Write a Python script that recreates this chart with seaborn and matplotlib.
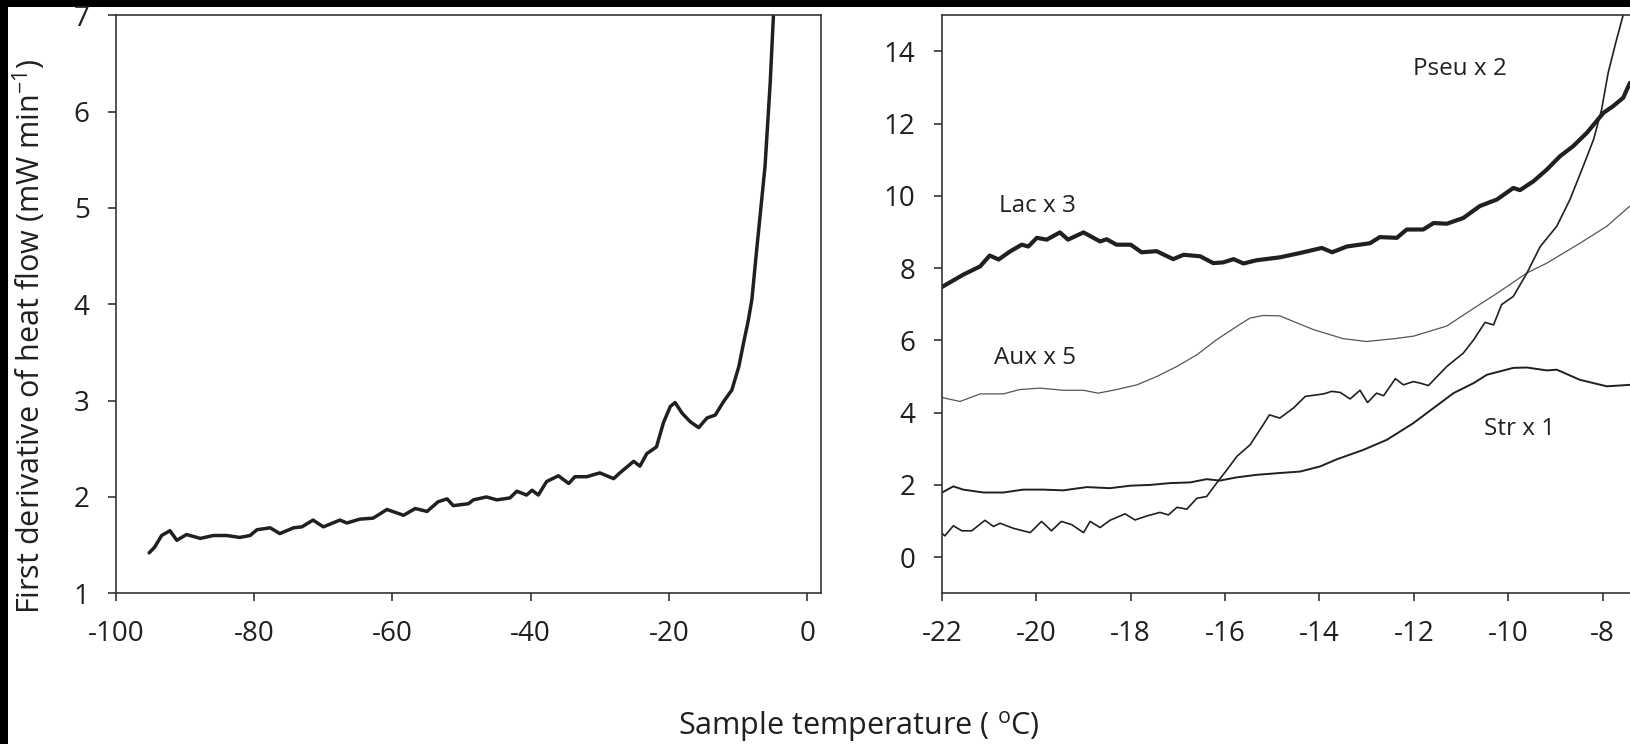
import matplotlib
matplotlib.use("Agg")
import matplotlib.pyplot as plt
import seaborn as sns
import pandas as pd
from matplotlib.patches import Rectangle

# ---------------- data ----------------
left_T = [-95.2, -94.4, -93.4, -92.2, -91.2, -89.8, -87.8, -85.9, -84.0, -82.1, -80.6, -79.6,
          -77.7, -76.3, -74.3, -73.1, -71.5, -70.0, -67.6, -66.6, -64.7, -62.8, -60.8, -58.4,
          -56.7, -55.0, -53.4, -52.1, -51.2, -49.0, -48.3, -46.4, -44.9, -43.0, -42.0, -40.6,
          -39.8, -38.9, -37.7, -36.0, -34.5, -33.6, -31.9, -30.0, -28.0, -27.1, -25.1, -24.2,
          -23.2, -21.8, -20.8, -19.8, -19.1, -18.1, -16.9, -15.7, -14.5, -13.3, -12.1, -10.9,
          -9.9, -9.2, -8.5, -8.0, -7.3, -6.1, -5.35, -4.88]
left_v = [1.42, 1.48, 1.60, 1.65, 1.55, 1.61, 1.57, 1.60, 1.60, 1.58, 1.60, 1.66,
          1.68, 1.62, 1.68, 1.69, 1.76, 1.69, 1.76, 1.73, 1.77, 1.78, 1.87, 1.81,
          1.88, 1.85, 1.95, 1.98, 1.91, 1.93, 1.97, 2.00, 1.97, 1.99, 2.06, 2.02,
          2.07, 2.02, 2.16, 2.22, 2.14, 2.21, 2.21, 2.25, 2.19, 2.25, 2.37, 2.32,
          2.45, 2.52, 2.77, 2.94, 2.98, 2.87, 2.78, 2.72, 2.82, 2.85, 2.99, 3.11,
          3.35, 3.60, 3.84, 4.05, 4.57, 5.43, 6.30, 7.00]

lac_T = [-22.0, -21.55, -21.19, -20.99, -20.8, -20.55, -20.31, -20.17, -19.99, -19.78, -19.5,
         -19.33, -19.0, -18.65, -18.51, -18.3, -18.0, -17.77, -17.45, -17.1, -16.88, -16.53,
         -16.25, -16.04, -15.82, -15.61, -15.33, -14.84, -14.41, -13.95, -13.73, -13.42,
         -12.93, -12.72, -12.36, -12.15, -11.8, -11.58, -11.3, -10.95, -10.6, -10.24, -9.89,
         -9.75, -9.46, -9.18, -8.9, -8.62, -8.33, -7.98, -7.77, -7.56, -7.42]
lac_v = [7.48, 7.82, 8.05, 8.35, 8.24, 8.47, 8.65, 8.6, 8.84, 8.79, 8.99,
         8.79, 8.99, 8.74, 8.8, 8.65, 8.65, 8.44, 8.47, 8.25, 8.37, 8.33,
         8.14, 8.16, 8.25, 8.13, 8.22, 8.3, 8.42, 8.56, 8.44, 8.6,
         8.69, 8.86, 8.84, 9.07, 9.07, 9.25, 9.23, 9.39, 9.72, 9.9, 10.22,
         10.16, 10.41, 10.73, 11.1, 11.38, 11.75, 12.3, 12.49, 12.72, 13.13]

aux_T = [-22.0, -21.62, -21.19, -20.7, -20.35, -19.92, -19.43, -19.0, -18.69, -18.3, -17.87,
         -17.45, -17.02, -16.6, -16.18, -15.75, -15.47, -15.19, -14.84, -14.13, -13.5, -13.0,
         -12.4, -12.0, -11.3, -10.6, -10.24, -9.6, -9.18, -8.48, -7.91, -7.42]
aux_v = [4.42, 4.31, 4.52, 4.52, 4.64, 4.68, 4.62, 4.62, 4.54, 4.64, 4.77,
         5.0, 5.28, 5.6, 6.02, 6.39, 6.62, 6.69, 6.68, 6.3, 6.05, 5.97,
         6.05, 6.12, 6.4, 7.0, 7.3, 7.87, 8.14, 8.69, 9.16, 9.72]

str_T = [-22.0, -21.76, -21.55, -21.12, -20.7, -20.28, -19.85, -19.43, -18.93, -18.44, -18.0,
         -17.59, -17.17, -16.74, -16.39, -16.11, -15.75, -15.33, -14.84, -14.41, -13.99, -13.63,
         -13.07, -12.57, -12.01, -11.58, -11.16, -10.73, -10.45, -9.89, -9.6, -9.18, -8.97,
         -8.48, -7.91, -7.42]
str_v = [1.79, 1.96, 1.87, 1.79, 1.79, 1.87, 1.87, 1.85, 1.94, 1.91, 1.98,
         2.0, 2.05, 2.07, 2.16, 2.12, 2.21, 2.28, 2.33, 2.37, 2.51, 2.71,
         2.97, 3.25, 3.71, 4.13, 4.54, 4.82, 5.05, 5.24, 5.25, 5.17, 5.19,
         4.91, 4.73, 4.77]

pseu_T = [-22.0, -21.94, -21.76, -21.58, -21.37, -21.09, -20.91, -20.77, -20.49, -20.13, -19.89,
          -19.68, -19.47, -19.25, -19.0, -18.86, -18.65, -18.44, -18.12, -17.91, -17.66, -17.38,
          -17.2, -17.02, -16.81, -16.6, -16.39, -16.18, -15.96, -15.75, -15.47, -15.19, -15.06,
          -14.84, -14.55, -14.3, -13.91, -13.74, -13.56, -13.35, -13.14, -12.98, -12.79, -12.64,
          -12.39, -12.22, -12.01, -11.87, -11.69, -11.3, -10.95, -10.73, -10.49, -10.31, -10.14,
          -9.89, -9.6, -9.32, -8.97, -8.69, -8.41, -8.19, -8.02, -7.88, -7.72, -7.56]
pseu_v = [0.66, 0.59, 0.87, 0.73, 0.73, 1.02, 0.85, 0.94, 0.80, 0.68, 0.99,
          0.73, 0.99, 0.90, 0.68, 0.99, 0.82, 1.02, 1.2, 1.03, 1.14, 1.24,
          1.17, 1.38, 1.33, 1.63, 1.68, 2.05, 2.42, 2.79, 3.11, 3.67, 3.94,
          3.85, 4.13, 4.45, 4.52, 4.59, 4.56, 4.38, 4.62, 4.28, 4.54, 4.47,
          4.94, 4.77, 4.86, 4.82, 4.75, 5.28, 5.65, 6.02, 6.5, 6.43, 6.99,
          7.22, 7.87, 8.6, 9.16, 9.9, 10.82, 11.56, 12.39, 13.41, 14.24, 15.02]

left_xticks = [-100, -80, -60, -40, -20, 0]
left_yticks = [1, 2, 3, 4, 5, 6, 7]
right_xticks = [-22, -20, -18, -16, -14, -12, -10, -8]
right_yticks = [0, 2, 4, 6, 8, 10, 12, 14]

labels = {"Lac x 3": (-19.97, 9.73), "Aux x 5": (-20.03, 5.51),
          "Pseu x 2": (-11.02, 13.5), "Str x 1": (-9.75, 3.55)}

ylabel = "First derivative of heat flow (mW min$^{\\mathrm{-1}}$)"
xlabel = "Sample temperature ( $^{\\mathrm{o}}$C)"

# ---------------- style ----------------
sns.set_style("ticks")
plt.rcParams["font.family"] = ["Open Sans", "DejaVu Sans"]
plt.rcParams["mathtext.fontset"] = "custom"
plt.rcParams["mathtext.rm"] = "Open Sans"
plt.rcParams["mathtext.it"] = "Open Sans:italic"
plt.rcParams["mathtext.bf"] = "Open Sans:bold"
plt.rcParams["axes.unicode_minus"] = False

INK = "#231f20"
SPINE = "#333333"

W, H = 1631, 744
fig = plt.figure(figsize=(W / 100, H / 100), dpi=100)
fig.patch.set_facecolor("black")
fig.add_artist(Rectangle((8 / W, 0), 1 - 8 / W, 1 - 7 / H, transform=fig.transFigure,
                         facecolor="white", edgecolor="none", zorder=-10))

bottom = 1 - 593.3 / H
height = (593.3 - 15.3) / H
axL = fig.add_axes([116 / W, bottom, (821 - 116) / W, height])
axR = fig.add_axes([942 / W, bottom, (15 * 47.18) / W, height])

dfL = pd.DataFrame({"T": left_T, "v": left_v})
sns.lineplot(data=dfL, x="T", y="v", ax=axL, color=INK, lw=2.5, sort=False, estimator=None)

series = [(lac_T, lac_v, 3.0, INK), (aux_T, aux_v, 0.9, "#555555"),
          (str_T, str_v, 1.4, INK), (pseu_T, pseu_v, 1.2, INK)]
for tt, vv, lw, c in series:
    sns.lineplot(x=tt, y=vv, ax=axR, color=c, lw=lw, sort=False, estimator=None)

for txt, (x, y) in labels.items():
    axR.text(x, y, txt, ha="center", va="center", fontsize=17.5, color=INK)

axL.set_xlim(-100, 2.0)
axL.set_ylim(1, 7)
axR.set_xlim(-22, -7)
axR.set_ylim(-1, 15)
axL.set_xticks(left_xticks)
axL.set_yticks(left_yticks)
axR.set_xticks(right_xticks)
axR.set_yticks(right_yticks)

for ax in (axL, axR):
    ax.set_facecolor("white")
    ax.set_xlabel("")
    ax.set_ylabel("")
    for s in ax.spines.values():
        s.set_visible(True)
        s.set_color(SPINE)
        s.set_linewidth(1.2)
    ax.tick_params(direction="out", length=6, width=1.2, color=SPINE,
                   labelsize=20, labelcolor=INK, pad=13, top=False, right=False)
axR.spines["right"].set_visible(False)

fig.text(29 / W, 1 - 336 / H, ylabel, rotation=90, ha="center", va="center",
         fontsize=22, color=INK)
fig.text(859 / W, 1 - 735 / H, xlabel, ha="center", va="baseline",
         fontsize=22, color=INK)

fig.savefig("out.png", dpi=100, facecolor=fig.get_facecolor())
